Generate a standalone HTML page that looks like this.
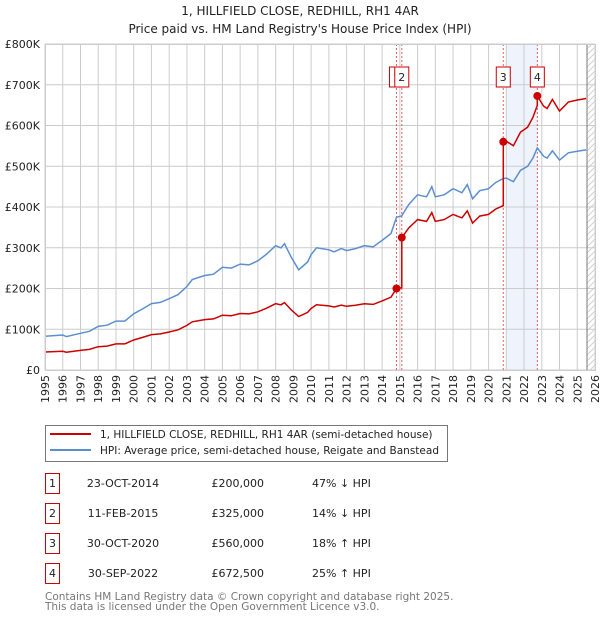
<!DOCTYPE html>
<html><head><meta charset="utf-8"><style>
body{margin:0;background:#fff;font-family:"DejaVu Sans","Liberation Sans",sans-serif;}
svg text{font-family:"DejaVu Sans","Liberation Sans",sans-serif;}
</style></head><body>
<svg id="c" width="600" height="620" xmlns="http://www.w3.org/2000/svg">
<defs><pattern id="hp" width="6" height="6" patternUnits="userSpaceOnUse"><path d="M0,6 L6,0" stroke="#d0d0d0" stroke-width="1"/></pattern></defs>
<text x="300" y="15" text-anchor="middle" font-size="12" fill="#222">1, HILLFIELD CLOSE, REDHILL, RH1 4AR</text>
<text x="300" y="33" text-anchor="middle" font-size="12" fill="#222">Price paid vs. HM Land Registry's House Price Index (HPI)</text>
<g id="plot"></g>
<g>
<rect x="45.5" y="425.5" width="402" height="36" fill="#fff" stroke="#777"/>
<line x1="50" y1="434" x2="91" y2="434" stroke="#cc0000" stroke-width="2"/>
<text x="100" y="438" font-size="10.5" fill="#222">1, HILLFIELD CLOSE, REDHILL, RH1 4AR (semi-detached house)</text>
<line x1="50" y1="450" x2="91" y2="450" stroke="#5b8fd0" stroke-width="2"/>
<text x="100" y="454" font-size="10.5" fill="#222">HPI: Average price, semi-detached house, Reigate and Banstead</text>
</g>
<g id="tbl"></g>
<text x="45" y="600" font-size="10.5" fill="#777">Contains HM Land Registry data © Crown copyright and database right 2025.</text>
<text x="45" y="610" font-size="10.5" fill="#777">This data is licensed under the Open Government Licence v3.0.</text>
</svg>
<script>
const hpiYears=[1995,1996,1996.2,1997,1997.5,1998,1998.5,1999,1999.5,2000,2000.5,2001,2001.5,2002,2002.5,2003,2003.3,2004,2004.5,2005,2005.5,2006,2006.5,2007,2007.5,2008,2008.3,2008.5,2008.9,2009.3,2009.8,2010,2010.3,2011,2011.3,2011.7,2012,2012.5,2013,2013.5,2014,2014.5,2014.81,2015.1,2015.5,2016,2016.5,2016.8,2017,2017.5,2018,2018.5,2018.8,2019.1,2019.5,2020,2020.4,2020.83,2021,2021.4,2021.8,2022.2,2022.5,2022.75,2023.1,2023.3,2023.6,2024,2024.5,2025,2025.5];
const hpiValues=[83,86,82,90,95,107,110,120,120,138,150,163,166,175,185,205,222,232,235,252,250,260,258,268,285,305,300,310,275,246,265,283,300,295,290,298,293,298,305,302,318,335,375,378,406,430,425,450,425,430,445,435,455,420,440,445,460,470,471,462,490,500,520,545,525,520,538,515,533,537,540];
const saleLabels=["1","2","3","4"];
const saleYears=[2014.81,2015.11,2020.83,2022.75];
const salePrices=[200,325,560,672.5];
const saleDates=["23-OCT-2014","11-FEB-2015","30-OCT-2020","30-SEP-2022"];
const salePriceText=["£200,000","£325,000","£560,000","£672,500"];
const saleHpiText=["47% ↓ HPI","14% ↓ HPI","18% ↑ HPI","25% ↑ HPI"];
const yTicks=[0,100,200,300,400,500,600,700,800];
const yTickLabels=["£0","£100K","£200K","£300K","£400K","£500K","£600K","£700K","£800K"];
const xTicks=[1995,1996,1997,1998,1999,2000,2001,2002,2003,2004,2005,2006,2007,2008,2009,2010,2011,2012,2013,2014,2015,2016,2017,2018,2019,2020,2021,2022,2023,2024,2025,2026];

const L=45,R=595,T=44,B=370,X0=1995,X1=2026,YMAX=800;
const sx=y=>L+(y-X0)/(X1-X0)*(R-L);
const sy=v=>B-v/YMAX*(B-T);
const NS="http://www.w3.org/2000/svg";
const plot=document.getElementById('plot');
function mk(tag,attrs,parent){const e=document.createElementNS(NS,tag);for(const k in attrs)e.setAttribute(k,attrs[k]);(parent||plot).appendChild(e);return e;}
function hpiAt(y){for(let i=0;i<hpiYears.length-1;i++){if(y>=hpiYears[i]&&y<=hpiYears[i+1]){const t=(y-hpiYears[i])/(hpiYears[i+1]-hpiYears[i]);return hpiValues[i]+t*(hpiValues[i+1]-hpiValues[i]);}}return hpiValues[hpiValues.length-1];}

let sh=mk('rect',{x:sx(2021),y:T,width:sx(saleYears[3])-sx(2021),height:B-T,fill:'#eef3fc'});


let hatch=mk('rect',{x:sx(2025.55),y:T,width:R-sx(2025.55),height:B-T,fill:'url(#hp)'});


xTicks.forEach((t,i)=>{
 const l=mk('line',{x1:sx(t),x2:sx(t),y1:T,y2:B,stroke:'#cccccc','stroke-width':1});
 
 
 const tx=mk('text',{x:0,y:0,'font-size':11,fill:'#222','text-anchor':'end',transform:`translate(${sx(t)+4},375) rotate(-90)`});
 tx.textContent=t;
 
 
});
yTicks.forEach((v,i)=>{
 const l=mk('line',{x1:L,x2:R,y1:sy(v),y2:sy(v),stroke:'#cccccc','stroke-width':1});
 
 
 const tx=mk('text',{x:40,y:sy(v)+4,'font-size':11,fill:'#222','text-anchor':'end'});
 tx.textContent=yTickLabels[i];
 
 
});
let now=mk('line',{x1:sx(2025.55),x2:sx(2025.55),y1:T,y2:B,stroke:'#777','stroke-width':1});


saleYears.forEach((y,i)=>{
 const l=mk('line',{x1:sx(y),x2:sx(y),y1:T,y2:B,stroke:'#e06060','stroke-width':1,'stroke-dasharray':'2,2'});
 
 
});
saleYears.forEach((y,i)=>{
 const g=mk('g',{});
 
 
 mk('rect',{x:sx(y)-7,y:67,width:14,height:20,fill:'#fff',stroke:'#cc0000'},g);
 const t=mk('text',{x:sx(y),y:81,'font-size':11,fill:'#222','text-anchor':'middle'},g);
 t.textContent=saleLabels[i];
});
let d='';
hpiYears.forEach((y,i)=>{d+=(i?'L':'M')+sx(y).toFixed(1)+','+sy(hpiValues[i]).toFixed(1);});
const hp=mk('path',{d:d,fill:'none',stroke:'#5b8fd0','stroke-width':1.5});


function ratioAt(y){let idx=0;for(let i=0;i<saleYears.length;i++){if(y>=saleYears[i])idx=i;}return salePrices[idx]/hpiAt(saleYears[idx]);}
let pts=[];
hpiYears.forEach((y,i)=>{pts.push([y,hpiValues[i]*ratioAt(y)]);});
saleYears.forEach((y,i)=>{if(i>0)pts.push([y-0.0001,hpiAt(y)*salePrices[i-1]/hpiAt(saleYears[i-1])]);pts.push([y,salePrices[i]]);});
pts.sort((a,b)=>a[0]-b[0]);
let d2='';pts.forEach((p,i)=>{d2+=(i?'L':'M')+sx(p[0]).toFixed(1)+','+sy(p[1]).toFixed(1);});
const pp=mk('path',{d:d2,fill:'none',stroke:'#cc0000','stroke-width':1.5});


saleYears.forEach((y,i)=>{
 const c=mk('circle',{cx:sx(y),cy:sy(salePrices[i]),r:4,fill:'#cc0000'});
 
 
});
let fr=mk('rect',{x:L+0.5,y:T+0.5,width:R-L,height:B-T,fill:'none',stroke:'#ccc'});


const tbl=document.getElementById('tbl');
saleLabels.forEach((lab,i)=>{
 const cy=483+i*30;
 const g=mk('g',{},tbl);
 
 
 mk('rect',{x:45.5,y:cy-9.5,width:14,height:20,fill:'#fff',stroke:'#cc0000'},g);
 const a=mk('text',{x:52.5,y:cy+4,'font-size':11,fill:'#222','text-anchor':'middle'},g);a.textContent=lab;
 const b=mk('text',{x:123,y:cy+4,'font-size':11,fill:'#222','text-anchor':'middle'},g);b.textContent=saleDates[i];
 const c=mk('text',{x:264,y:cy+4,'font-size':11,fill:'#222','text-anchor':'end'},g);c.textContent=salePriceText[i];
 const e=mk('text',{x:312,y:cy+4,'font-size':11,fill:'#222'},g);e.textContent=saleHpiText[i];
});
</script>
</body></html>
